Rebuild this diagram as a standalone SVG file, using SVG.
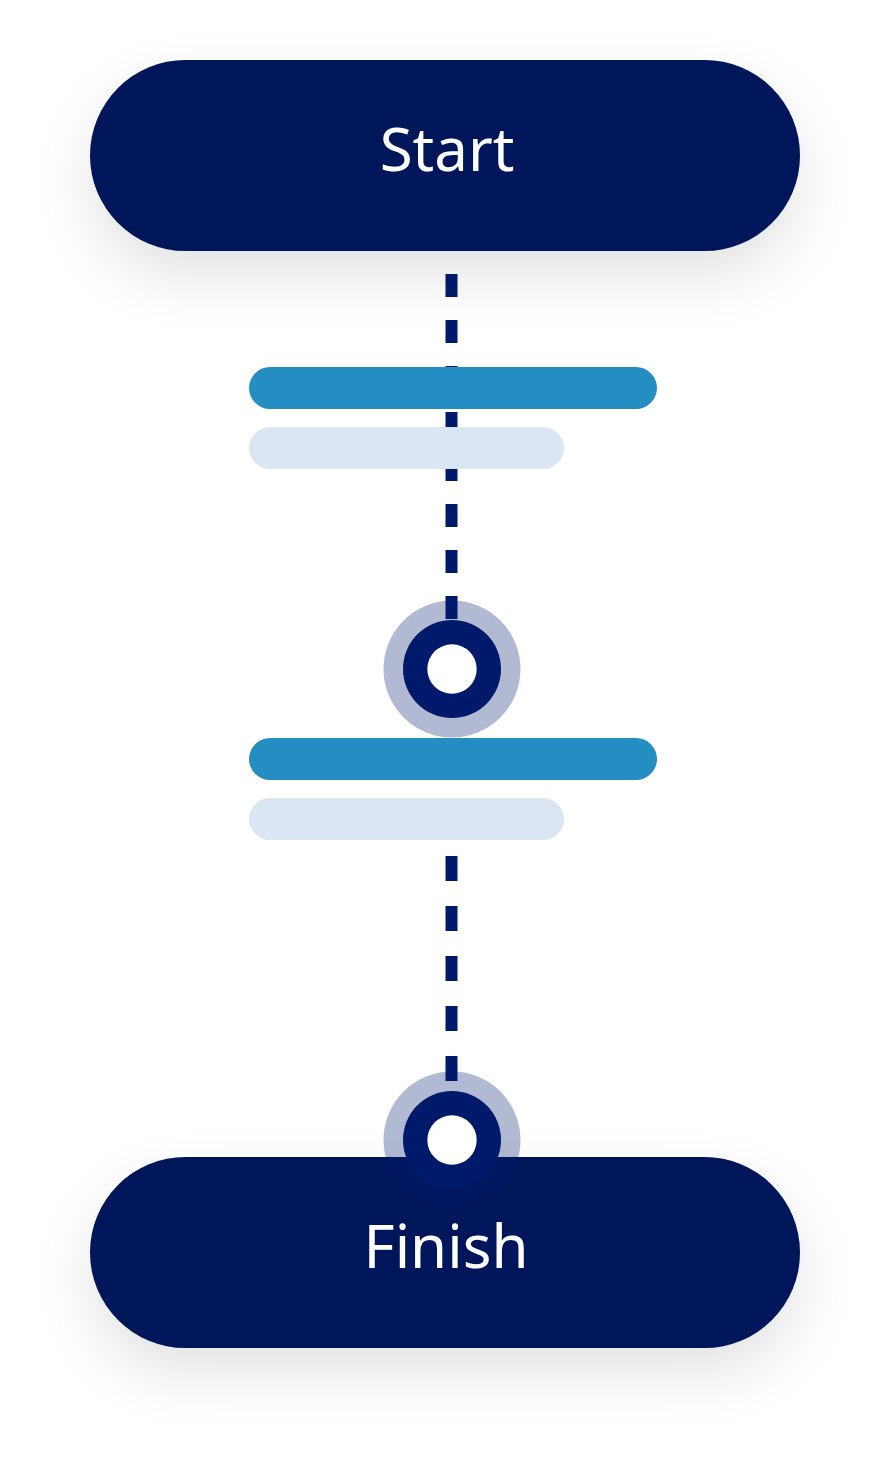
<svg xmlns="http://www.w3.org/2000/svg" width="891" height="1469" viewBox="0 0 891 1469">
  <defs>
    <filter id="shadow" x="-20%" y="-50%" width="140%" height="220%">
      <feDropShadow dx="0" dy="26" stdDeviation="28" flood-color="#000000" flood-opacity="0.11"/>
    </filter>
    <style>
      .pill { fill: #02155a; filter: url(#shadow); }
      .label { font-family: "Noto Sans", "Liberation Sans", sans-serif; font-size: 60px; fill: #ffffff; text-anchor: middle; }
      .halo { fill: #00186e; fill-opacity: 0.3; }
      .ring { fill: #001a6b; }
      .hole { fill: #ffffff; }
      .dash { stroke: #001a6b; stroke-width: 12; fill: none; }
      .barA { fill: #248dc1; }
      .barB { fill: #dae6f1; }
    </style>
  </defs>
  <rect width="891" height="1469" fill="#ffffff"/>

  <g id="start">
    <rect class="pill" x="90" y="60" width="710" height="191" rx="95.5" ry="95.5"/>
    <text class="label" x="447" y="171">Start</text>
  </g>

  <g id="finish">
    <rect class="pill" x="90" y="1157" width="710" height="191" rx="95.5" ry="95.5"/>
    <text class="label" x="446" y="1268">Finish</text>
  </g>

  <g id="milestone1">
    <circle class="halo" cx="452" cy="669" r="68.5"/>
    <circle class="ring" cx="452" cy="669" r="49"/>
    <circle class="hole" cx="452" cy="669" r="24.7"/>
  </g>

  <g id="milestone2">
    <circle class="halo" cx="452" cy="1140" r="68.5"/>
    <circle class="ring" cx="452" cy="1140" r="49"/>
    <circle class="hole" cx="452" cy="1140" r="24.7"/>
  </g>

  <g id="connectors">
    <line class="dash" x1="451.5" y1="274" x2="451.5" y2="619" stroke-dasharray="23 23"/>
    <line class="dash" x1="451.5" y1="856" x2="451.5" y2="1081" stroke-dasharray="25 25"/>
  </g>

  <g id="step1">
    <rect class="barA" x="249" y="367" width="408" height="42" rx="21" ry="21"/>
    <rect class="barB" x="249" y="427" width="315" height="42" rx="21" ry="21"/>
  </g>

  <g id="step2">
    <rect class="barA" x="249" y="738" width="408" height="42" rx="21" ry="21"/>
    <rect class="barB" x="249" y="798" width="315" height="42" rx="21" ry="21"/>
  </g>
</svg>
